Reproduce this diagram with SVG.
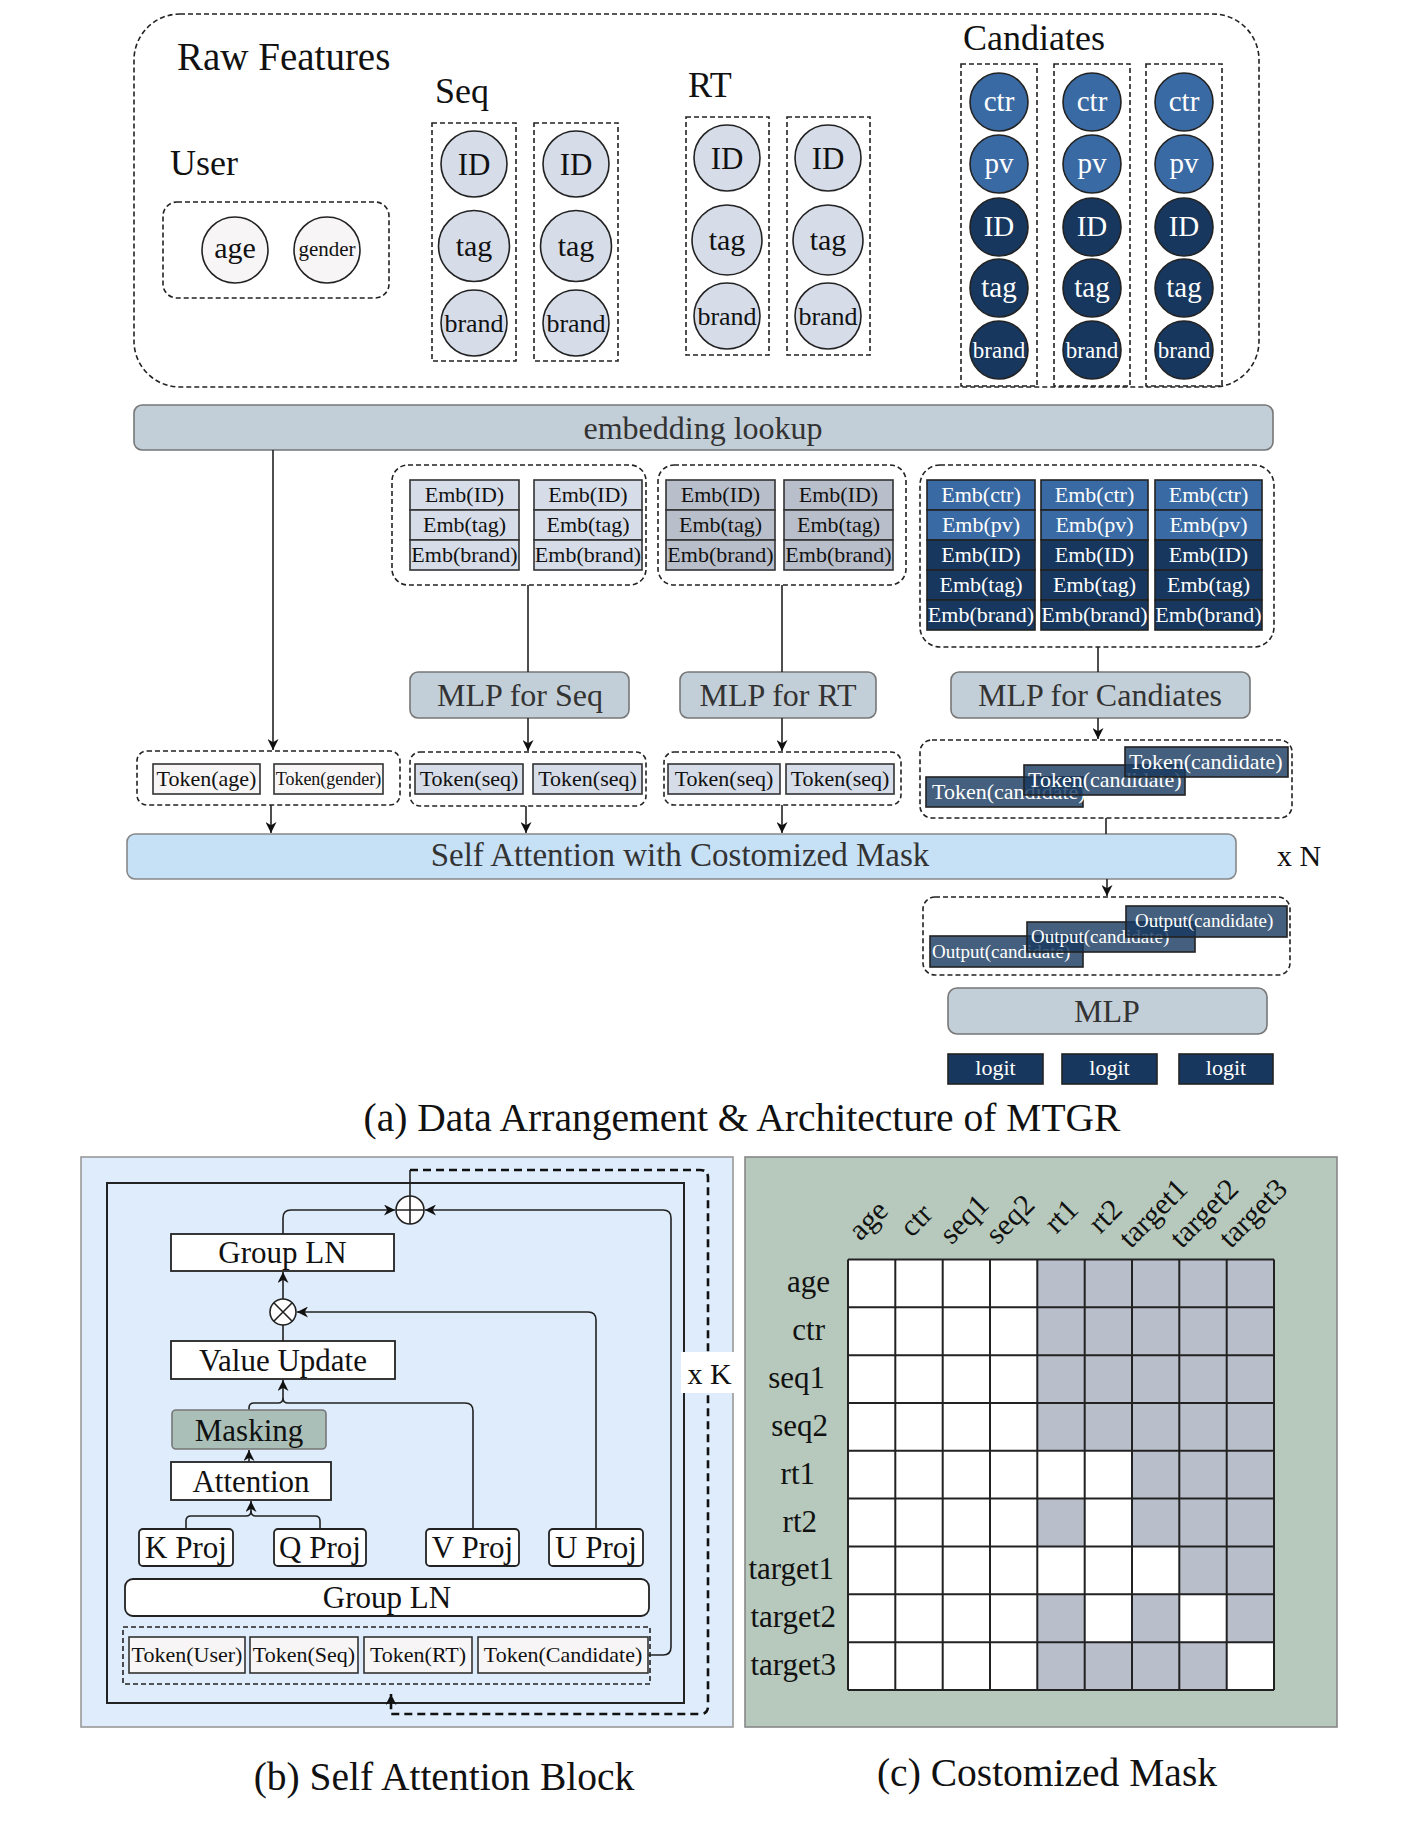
<svg xmlns="http://www.w3.org/2000/svg" width="1412" height="1822" viewBox="0 0 1412 1822">
<defs>
<style>
text{font-family:"Liberation Serif","Times New Roman",serif;fill:#111}
.dash{fill:none;stroke:#222;stroke-width:1.6;stroke-dasharray:5,3}
.cl{fill:#d6dde9;stroke:#222;stroke-width:1.6}
.cu{fill:#f7f5f5;stroke:#222;stroke-width:1.6}
.cm{fill:#3a6aa3;stroke:#222;stroke-width:1.6}
.cd{fill:#17375e;stroke:#222;stroke-width:1.6}
.bl{fill:#d6dde9;stroke:#333;stroke-width:1.6}
.bg{fill:#b9bfca;stroke:#333;stroke-width:1.6}
.bm{fill:#3a6aa3;stroke:#222;stroke-width:1.6}
.bd{fill:#17375e;stroke:#222;stroke-width:1.6}
.bu{fill:#f7f5f5;stroke:#333;stroke-width:1.6}
.bt{fill:#17375e;fill-opacity:0.8;stroke:#222;stroke-width:1.6}
.bar{fill:#c3cfd8;stroke:#777;stroke-width:1.6}
.ln{fill:none;stroke:#222;stroke-width:1.6}
.wb{fill:#fff;stroke:#222;stroke-width:1.8}
.w{fill:#fff}
.m{text-anchor:middle}
.e{text-anchor:end}
</style>
<marker id="ar" viewBox="0 0 10 10" refX="10" refY="5" markerWidth="11" markerHeight="11" markerUnits="userSpaceOnUse" orient="auto">
<path d="M0,0 L10,5 L0,10 L3,5 z" fill="#111"/>
</marker>
</defs>
<rect width="1412" height="1822" fill="#fff"/>

<!-- ========== (a) Raw features ========== -->
<g id="raw-features">
<rect class="dash" x="134" y="14" width="1125" height="373" rx="46"/>
<text x="177" y="70" font-size="39">Raw Features</text>
</g>
<g id="user">
<text x="170" y="175" font-size="36">User</text>
<rect class="dash" x="163" y="202" width="226" height="96" rx="14"/>
<circle class="cu" cx="235" cy="250" r="33"/>
<text class="m" x="235" y="258" font-size="30">age</text>
<circle class="cu" cx="327" cy="250" r="33"/>
<text class="m" x="327" y="256" font-size="21">gender</text>
</g>
<g id="seq">
<text x="435" y="103" font-size="36">Seq</text>
<rect class="dash" x="432" y="123" width="84" height="238"/>
<rect class="dash" x="534" y="123" width="84" height="238"/>
<circle class="cl" cx="474" cy="164" r="33"/><text class="m" x="474" y="175" font-size="31">ID</text>
<circle class="cl" cx="474" cy="246" r="35.5"/><text class="m" x="474" y="256" font-size="30">tag</text>
<circle class="cl" cx="474" cy="323" r="33"/><text class="m" x="474" y="332" font-size="26">brand</text>
<circle class="cl" cx="576" cy="164" r="33"/><text class="m" x="576" y="175" font-size="31">ID</text>
<circle class="cl" cx="576" cy="246" r="35.5"/><text class="m" x="576" y="256" font-size="30">tag</text>
<circle class="cl" cx="576" cy="323" r="33"/><text class="m" x="576" y="332" font-size="26">brand</text>
</g>
<g id="rt">
<text x="688" y="97" font-size="36">RT</text>
<rect class="dash" x="686" y="117" width="83" height="238"/>
<rect class="dash" x="787" y="117" width="83" height="238"/>
<circle class="cl" cx="727" cy="158" r="33"/><text class="m" x="727" y="169" font-size="31">ID</text>
<circle class="cl" cx="727" cy="240" r="35"/><text class="m" x="727" y="250" font-size="30">tag</text>
<circle class="cl" cx="727" cy="316" r="33"/><text class="m" x="727" y="325" font-size="26">brand</text>
<circle class="cl" cx="828" cy="158" r="33"/><text class="m" x="828" y="169" font-size="31">ID</text>
<circle class="cl" cx="828" cy="240" r="35"/><text class="m" x="828" y="250" font-size="30">tag</text>
<circle class="cl" cx="828" cy="316" r="33"/><text class="m" x="828" y="325" font-size="26">brand</text>
</g>
<g id="candidates">
<text x="963" y="50" font-size="36">Candiates</text>
<rect class="dash" x="961" y="64" width="76" height="322"/>
<rect class="dash" x="1054" y="64" width="76" height="322"/>
<rect class="dash" x="1146" y="64" width="76" height="322"/>
<circle class="cm" cx="999" cy="102" r="29"/><text class="m w" x="999" y="111" font-size="29">ctr</text>
<circle class="cm" cx="999" cy="164" r="29"/><text class="m w" x="999" y="173" font-size="29">pv</text>
<circle class="cd" cx="999" cy="227" r="29"/><text class="m w" x="999" y="236" font-size="29">ID</text>
<circle class="cd" cx="999" cy="288" r="29"/><text class="m w" x="999" y="297" font-size="29">tag</text>
<circle class="cd" cx="999" cy="350" r="29"/><text class="m w" x="999" y="358" font-size="23">brand</text>
<circle class="cm" cx="1092" cy="102" r="29"/><text class="m w" x="1092" y="111" font-size="29">ctr</text>
<circle class="cm" cx="1092" cy="164" r="29"/><text class="m w" x="1092" y="173" font-size="29">pv</text>
<circle class="cd" cx="1092" cy="227" r="29"/><text class="m w" x="1092" y="236" font-size="29">ID</text>
<circle class="cd" cx="1092" cy="288" r="29"/><text class="m w" x="1092" y="297" font-size="29">tag</text>
<circle class="cd" cx="1092" cy="350" r="29"/><text class="m w" x="1092" y="358" font-size="23">brand</text>
<circle class="cm" cx="1184" cy="102" r="29"/><text class="m w" x="1184" y="111" font-size="29">ctr</text>
<circle class="cm" cx="1184" cy="164" r="29"/><text class="m w" x="1184" y="173" font-size="29">pv</text>
<circle class="cd" cx="1184" cy="227" r="29"/><text class="m w" x="1184" y="236" font-size="29">ID</text>
<circle class="cd" cx="1184" cy="288" r="29"/><text class="m w" x="1184" y="297" font-size="29">tag</text>
<circle class="cd" cx="1184" cy="350" r="29"/><text class="m w" x="1184" y="358" font-size="23">brand</text>
</g>

<g id="embedding-lookup">
<rect class="bar" x="134" y="405" width="1139" height="45" rx="8"/>
<text class="m" x="703" y="439" font-size="32" style="fill:#333">embedding lookup</text>
</g>

<g id="seq-emb" font-size="22">
<rect class="dash" x="392" y="465" width="254" height="120" rx="16"/>
<rect class="bl" x="410" y="480" width="109" height="30"/><text class="m" x="464.5" y="502">Emb(ID)</text>
<rect class="bl" x="410" y="510" width="109" height="30"/><text class="m" x="464.5" y="532">Emb(tag)</text>
<rect class="bl" x="410" y="540" width="109" height="30"/><text class="m" x="464.5" y="562">Emb(brand)</text>
<rect class="bl" x="534" y="480" width="108" height="30"/><text class="m" x="588" y="502">Emb(ID)</text>
<rect class="bl" x="534" y="510" width="108" height="30"/><text class="m" x="588" y="532">Emb(tag)</text>
<rect class="bl" x="534" y="540" width="108" height="30"/><text class="m" x="588" y="562">Emb(brand)</text>
</g>
<g id="rt-emb" font-size="22">
<rect class="dash" x="658" y="465" width="248" height="120" rx="16"/>
<rect class="bg" x="666" y="480" width="109" height="30"/><text class="m" x="720.5" y="502">Emb(ID)</text>
<rect class="bg" x="666" y="510" width="109" height="30"/><text class="m" x="720.5" y="532">Emb(tag)</text>
<rect class="bg" x="666" y="540" width="109" height="30"/><text class="m" x="720.5" y="562">Emb(brand)</text>
<rect class="bg" x="784" y="480" width="109" height="30"/><text class="m" x="838.5" y="502">Emb(ID)</text>
<rect class="bg" x="784" y="510" width="109" height="30"/><text class="m" x="838.5" y="532">Emb(tag)</text>
<rect class="bg" x="784" y="540" width="109" height="30"/><text class="m" x="838.5" y="562">Emb(brand)</text>
</g>
<g id="cand-emb" font-size="22">
<rect class="dash" x="920" y="465" width="354" height="182" rx="20"/>
<rect class="bm" x="927" y="480" width="108" height="30"/><text class="m w" x="981" y="502">Emb(ctr)</text>
<rect class="bm" x="927" y="510" width="108" height="30"/><text class="m w" x="981" y="532">Emb(pv)</text>
<rect class="bd" x="927" y="540" width="108" height="30"/><text class="m w" x="981" y="562">Emb(ID)</text>
<rect class="bd" x="927" y="570" width="108" height="30"/><text class="m w" x="981" y="592">Emb(tag)</text>
<rect class="bd" x="927" y="600" width="108" height="30"/><text class="m w" x="981" y="622">Emb(brand)</text>
<rect class="bm" x="1041" y="480" width="107" height="30"/><text class="m w" x="1094.5" y="502">Emb(ctr)</text>
<rect class="bm" x="1041" y="510" width="107" height="30"/><text class="m w" x="1094.5" y="532">Emb(pv)</text>
<rect class="bd" x="1041" y="540" width="107" height="30"/><text class="m w" x="1094.5" y="562">Emb(ID)</text>
<rect class="bd" x="1041" y="570" width="107" height="30"/><text class="m w" x="1094.5" y="592">Emb(tag)</text>
<rect class="bd" x="1041" y="600" width="107" height="30"/><text class="m w" x="1094.5" y="622">Emb(brand)</text>
<rect class="bm" x="1155" y="480" width="107" height="30"/><text class="m w" x="1208.5" y="502">Emb(ctr)</text>
<rect class="bm" x="1155" y="510" width="107" height="30"/><text class="m w" x="1208.5" y="532">Emb(pv)</text>
<rect class="bd" x="1155" y="540" width="107" height="30"/><text class="m w" x="1208.5" y="562">Emb(ID)</text>
<rect class="bd" x="1155" y="570" width="107" height="30"/><text class="m w" x="1208.5" y="592">Emb(tag)</text>
<rect class="bd" x="1155" y="600" width="107" height="30"/><text class="m w" x="1208.5" y="622">Emb(brand)</text>
</g>

<g id="mlp-seq"><rect class="bar" x="410" y="672" width="219" height="46" rx="8"/><text class="m" x="520" y="706" font-size="32" style="fill:#333">MLP for Seq</text></g>
<g id="mlp-rt"><rect class="bar" x="680" y="672" width="196" height="46" rx="8"/><text class="m" x="778" y="706" font-size="32" style="fill:#333">MLP for RT</text></g>
<g id="mlp-cand"><rect class="bar" x="951" y="672" width="299" height="46" rx="8"/><text class="m" x="1100" y="706" font-size="32" style="fill:#333">MLP for Candiates</text></g>

<g id="tok-user">
<rect class="dash" x="137" y="751" width="263" height="54" rx="10"/>
<rect class="bu" x="153" y="764" width="107" height="30"/><text class="m" x="206.5" y="786" font-size="22">Token(age)</text>
<rect class="bu" x="274" y="764" width="109" height="30"/><text class="m" x="328.5" y="785" font-size="18">Token(gender)</text>
</g>
<g id="tok-seq" font-size="22">
<rect class="dash" x="410" y="752" width="236" height="54" rx="10"/>
<rect class="bl" x="415" y="764" width="108" height="30"/><text class="m" x="469" y="786">Token(seq)</text>
<rect class="bl" x="533" y="764" width="109" height="30"/><text class="m" x="587.5" y="786">Token(seq)</text>
</g>
<g id="tok-rt" font-size="22">
<rect class="dash" x="664" y="752" width="237" height="53" rx="10"/>
<rect class="bl" x="668" y="764" width="112" height="30"/><text class="m" x="724" y="786">Token(seq)</text>
<rect class="bl" x="786" y="764" width="108" height="30"/><text class="m" x="840" y="786">Token(seq)</text>
</g>
<g id="tok-cand" font-size="22">
<rect class="dash" x="920" y="740" width="372" height="78" rx="12"/>
<rect class="bt" x="926" y="777" width="157" height="30"/><text class="w" x="932" y="799">Token(candidate)</text>
<rect class="bt" x="1024" y="765" width="161" height="30"/><text class="w" x="1028" y="787">Token(candidate)</text>
<rect class="bt" x="1125" y="747" width="163" height="30"/><text class="w" x="1129" y="769">Token(candidate)</text>
</g>

<g id="self-attention">
<rect x="127" y="834" width="1109" height="45" rx="8" fill="#c6e0f6" stroke="#888" stroke-width="1.6"/>
<text class="m" x="680" y="866" font-size="33" style="fill:#333">Self Attention with Costomized Mask</text>
<text x="1277" y="866" font-size="30">x N</text>
</g>

<g id="output">
<rect class="dash" x="923" y="897" width="367" height="78" rx="12"/>
<rect class="bt" x="930" y="936" width="153" height="31"/><text class="w" x="932" y="958" font-size="19">Output(candidate)</text>
<rect class="bt" x="1027" y="922" width="168" height="30"/><text class="w" x="1031" y="943" font-size="19">Output(candidate)</text>
<rect class="bt" x="1126" y="906" width="161" height="31"/><text class="w" x="1135" y="927" font-size="19">Output(candidate)</text>
</g>
<g id="mlp-out"><rect class="bar" x="948" y="988" width="319" height="46" rx="9"/><text class="m" x="1107" y="1022" font-size="32" style="fill:#333">MLP</text></g>
<g id="logits" font-size="22">
<rect class="bd" x="948" y="1054" width="95" height="30"/><text class="m w" x="995.5" y="1075">logit</text>
<rect class="bd" x="1062" y="1054" width="95" height="30"/><text class="m w" x="1109.5" y="1075">logit</text>
<rect class="bd" x="1179" y="1054" width="94" height="30"/><text class="m w" x="1226" y="1075">logit</text>
</g>
<text class="m" x="742" y="1131" font-size="39.5">(a) Data Arrangement &amp; Architecture of MTGR</text>

<g id="connectors-a">
<line class="ln" x1="273" y1="450" x2="273" y2="750" marker-end="url(#ar)"/>
<line class="ln" x1="528" y1="585" x2="528" y2="672"/>
<line class="ln" x1="782" y1="585" x2="782" y2="672"/>
<line class="ln" x1="1098" y1="647" x2="1098" y2="672"/>
<line class="ln" x1="528" y1="718" x2="528" y2="751" marker-end="url(#ar)"/>
<line class="ln" x1="782" y1="718" x2="782" y2="751" marker-end="url(#ar)"/>
<line class="ln" x1="1098" y1="718" x2="1098" y2="739" marker-end="url(#ar)"/>
<line class="ln" x1="271" y1="805" x2="271" y2="833" marker-end="url(#ar)"/>
<line class="ln" x1="526" y1="806" x2="526" y2="833" marker-end="url(#ar)"/>
<line class="ln" x1="782" y1="805" x2="782" y2="833" marker-end="url(#ar)"/>
<line class="ln" x1="1106" y1="818" x2="1106" y2="834"/>
<line class="ln" x1="1107" y1="879" x2="1107" y2="896" marker-end="url(#ar)"/>
</g>

<!-- ========== (b) Self Attention Block ========== -->
<g id="panel-b">
<rect x="81" y="1157" width="652" height="570" fill="#deecfb" stroke="#999" stroke-width="1.6"/>
<rect x="107" y="1183" width="577" height="520" fill="none" stroke="#222" stroke-width="2"/>
</g>
<g id="connectors-b">
<line class="ln" x1="410" y1="1196" x2="410" y2="1170"/>
<path d="M410 1170 H700 Q708 1170 708 1178 V1706 Q708 1714 700 1714 H391 V1694" fill="none" stroke="#111" stroke-width="2.6" stroke-dasharray="8,5" marker-end="url(#ar)"/>
<path class="ln" d="M283 1234 V1218 Q283 1210 291 1210 H395" marker-end="url(#ar)"/>
<path class="ln" d="M648 1655 H663 Q671 1655 671 1647 V1218 Q671 1210 663 1210 H425" marker-end="url(#ar)"/>
<line class="ln" x1="283" y1="1299" x2="283" y2="1272" marker-end="url(#ar)"/>
<path class="ln" d="M596 1529 V1320 Q596 1312 588 1312 H297" marker-end="url(#ar)"/>
<line class="ln" x1="283" y1="1341" x2="283" y2="1325"/>
<path class="ln" d="M249 1410 V1408 Q249 1403 254 1403 H278 Q283 1403 283 1398 V1380" marker-end="url(#ar)"/>
<path class="ln" d="M473 1529 V1411 Q473 1403 465 1403 H288 Q283 1403 283 1398"/>
<line class="ln" x1="249" y1="1462" x2="249" y2="1450" marker-end="url(#ar)"/>
<path class="ln" d="M186 1529 V1521 Q186 1516 191 1516 H246 Q251 1516 251 1511 V1501" marker-end="url(#ar)"/>
<path class="ln" d="M320 1529 V1521 Q320 1516 315 1516 H256 Q251 1516 251 1511"/>
</g>
<g id="oplus">
<circle cx="410" cy="1210" r="14" fill="#fff" stroke="#222" stroke-width="1.6"/>
<path class="ln" d="M396 1210 H424 M410 1196 V1224"/>
</g>
<g id="otimes">
<circle cx="283" cy="1312" r="13" fill="#fff" stroke="#222" stroke-width="1.6"/>
<path class="ln" d="M273.8 1302.8 L292.2 1321.2 M292.2 1302.8 L273.8 1321.2"/>
</g>
<g id="group-ln-top"><rect class="wb" x="171" y="1234" width="223" height="37"/><text class="m" x="282.5" y="1263" font-size="31">Group LN</text></g>
<g id="value-update"><rect class="wb" x="171" y="1341" width="224" height="38"/><text class="m" x="283" y="1371" font-size="31">Value Update</text></g>
<g id="masking"><rect x="172" y="1410" width="154" height="39" rx="4" fill="#a9bfb8" stroke="#777" stroke-width="1.6"/><text class="m" x="249" y="1441" font-size="31">Masking</text></g>
<g id="attention"><rect class="wb" x="171" y="1462" width="160" height="38"/><text class="m" x="251" y="1492" font-size="31">Attention</text></g>
<g id="k-proj"><rect class="wb" x="139" y="1529" width="94" height="37" rx="4"/><text class="m" x="186" y="1558" font-size="31">K Proj</text></g>
<g id="q-proj"><rect class="wb" x="274" y="1529" width="92" height="37" rx="4"/><text class="m" x="320" y="1558" font-size="31">Q Proj</text></g>
<g id="v-proj"><rect class="wb" x="426" y="1529" width="93" height="37" rx="4"/><text class="m" x="472.5" y="1558" font-size="31">V Proj</text></g>
<g id="u-proj"><rect class="wb" x="549" y="1529" width="94" height="37" rx="4"/><text class="m" x="596" y="1558" font-size="31">U Proj</text></g>
<g id="group-ln-bottom"><rect class="wb" x="125" y="1579" width="524" height="37" rx="8"/><text class="m" x="387" y="1608" font-size="31">Group LN</text></g>
<g id="tokens-b" font-size="22">
<rect class="dash" x="123" y="1627" width="527" height="57"/>
<rect class="bu" x="129" y="1637" width="116" height="36"/><text class="m" x="187" y="1662">Token(User)</text>
<rect class="bu" x="250" y="1637" width="108" height="36"/><text class="m" x="304" y="1662">Token(Seq)</text>
<rect class="bu" x="364" y="1637" width="108" height="36"/><text class="m" x="418" y="1662">Token(RT)</text>
<rect class="bu" x="478" y="1637" width="170" height="36"/><text class="m" x="563" y="1662">Token(Candidate)</text>
</g>
<g id="xk"><rect x="681" y="1352" width="57" height="41" fill="#fff"/><text class="m" x="709.5" y="1384" font-size="30">x K</text></g>
<text class="m" x="444" y="1790" font-size="39.5">(b) Self Attention Block</text>

<!-- ========== (c) Costomized Mask ========== -->
<g id="panel-c"><rect x="745" y="1157" width="592" height="570" fill="#b6c9bc" stroke="#888" stroke-width="1.6"/></g>
<g id="mask-grid">
<rect x="848" y="1259.5" width="426" height="430.5" fill="#fff"/>
<g fill="#b8bfcb">
<rect x="1037.3" y="1259.5" width="236.7" height="191.3"/>
<rect x="1132" y="1450.8" width="142" height="47.8"/>
<rect x="1037.3" y="1498.6" width="47.3" height="47.8"/>
<rect x="1132" y="1498.6" width="142" height="47.8"/>
<rect x="1179.3" y="1546.4" width="94.7" height="47.9"/>
<rect x="1037.3" y="1594.3" width="47.3" height="47.9"/>
<rect x="1132" y="1594.3" width="47.3" height="47.9"/>
<rect x="1226.7" y="1594.3" width="47.3" height="47.9"/>
<rect x="1037.3" y="1642.2" width="189.4" height="47.8"/>
</g>
<path fill="none" stroke="#222" stroke-width="2" d="M848 1259.5 V1690 M895.3 1259.5 V1690 M942.7 1259.5 V1690 M990 1259.5 V1690 M1037.3 1259.5 V1690 M1084.7 1259.5 V1690 M1132 1259.5 V1690 M1179.3 1259.5 V1690 M1226.7 1259.5 V1690 M1274 1259.5 V1690 M848 1259.5 H1274 M848 1307.3 H1274 M848 1355.2 H1274 M848 1403 H1274 M848 1450.8 H1274 M848 1498.6 H1274 M848 1546.4 H1274 M848 1594.3 H1274 M848 1642.2 H1274 M848 1690 H1274"/>
</g>
<g id="row-labels" font-size="31">
<text class="e" x="830" y="1292">age</text>
<text class="e" x="825" y="1340">ctr</text>
<text class="e" x="825" y="1388">seq1</text>
<text class="e" x="828" y="1436">seq2</text>
<text class="e" x="815" y="1484">rt1</text>
<text class="e" x="817" y="1532">rt2</text>
<text class="e" x="834" y="1579">target1</text>
<text class="e" x="836" y="1627">target2</text>
<text class="e" x="836" y="1675">target3</text>
</g>
<g id="col-labels" font-size="30">
<text class="m" transform="translate(870 1222) rotate(-45)" y="7">age</text>
<text class="m" transform="translate(918 1222) rotate(-45)" y="7">ctr</text>
<text class="m" transform="translate(966 1221) rotate(-45)" y="7">seq1</text>
<text class="m" transform="translate(1012 1221) rotate(-45)" y="7">seq2</text>
<text class="m" transform="translate(1063 1218) rotate(-45)" y="7">rt1</text>
<text class="m" transform="translate(1107 1218) rotate(-45)" y="7">rt2</text>
<text class="m" transform="translate(1155 1215) rotate(-45)" y="7">target1</text>
<text class="m" transform="translate(1206 1215) rotate(-45)" y="7">target2</text>
<text class="m" transform="translate(1255 1215) rotate(-45)" y="7">target3</text>
</g>
<text class="m" x="1047" y="1786" font-size="39.5">(c) Costomized Mask</text>
</svg>
